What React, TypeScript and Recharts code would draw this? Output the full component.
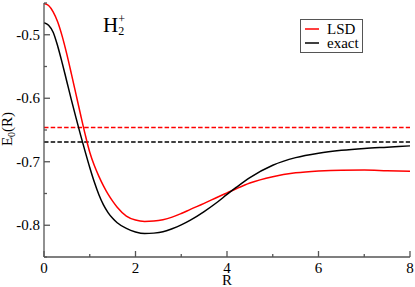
import React from 'react';
import { LineChart, Line, XAxis, YAxis, ReferenceLine, Legend } from 'recharts';

// distance R (bohr)
const rValues = [
  0, 0.1, 0.2, 0.3, 0.4, 0.5, 0.6, 0.7, 0.8, 0.9, 1.0, 1.1, 1.2, 1.3, 1.4, 1.5, 1.6, 1.8, 2.0, 2.2,
  2.4, 2.6, 2.8, 3.0, 3.2, 3.5, 3.8, 4.0, 4.2, 4.5, 5.0, 5.5, 6.0, 6.5, 7.0, 7.5, 8.0,
];
// ground state energy, LSD
const lsdValues = [
  -0.451, -0.454, -0.464, -0.48, -0.503, -0.531, -0.562, -0.594, -0.626, -0.657, -0.685, -0.706,
  -0.723, -0.738, -0.751, -0.762, -0.7715, -0.7855, -0.7918, -0.7939, -0.7933, -0.7912, -0.7872,
  -0.7815, -0.775, -0.7655, -0.7555, -0.749, -0.7425, -0.7335, -0.7235, -0.7175, -0.7145, -0.7132,
  -0.7131, -0.714, -0.7148,
];
// ground state energy, exact
const exactValues = [
  -0.481, -0.485, -0.496, -0.518, -0.545, -0.574, -0.603, -0.631, -0.658, -0.684, -0.709, -0.732,
  -0.752, -0.768, -0.78, -0.789, -0.796, -0.805, -0.8105, -0.8131, -0.8124, -0.8103, -0.8055,
  -0.7995, -0.792, -0.7785, -0.763, -0.7515, -0.7405, -0.725, -0.7055, -0.6935, -0.6865, -0.682,
  -0.679, -0.677, -0.675,
];
// dissociation limits (dashed)
const lsdLimit = -0.646;
const exactLimit = -0.669;

const xTicks = [0, 1, 2, 3, 4, 5, 6, 7, 8];
const yTicks = [-0.85, -0.8, -0.75, -0.7, -0.65, -0.6, -0.55, -0.5, -0.45];

const data = rValues.map((R, i) => ({ R, lsd: lsdValues[i], exact: exactValues[i] }));

const FONT = '"Liberation Serif", "DejaVu Serif", serif';
const AXIS = '#555';
const MAJOR = 6;
const MINOR = 3;
const MIRROR = 5;

const isMajorY = (v: number) => Math.abs(v * 10 - Math.round(v * 10)) < 1e-6;

const BottomTick = (props: any) => {
  const { x, y, payload } = props;
  const major = payload.value % 2 === 0;
  return (
    <g>
      <line x1={x} x2={x} y1={y} y2={y - (major ? MAJOR : MINOR)} stroke={AXIS} strokeWidth={1.3} />
      {major && (
        <text x={x} y={y + 16} textAnchor="middle" fontSize={15} fontFamily={FONT} fill="#000">
          {payload.value}
        </text>
      )}
    </g>
  );
};

const LeftTick = (props: any) => {
  const { x, y, payload } = props;
  const major = isMajorY(payload.value);
  return (
    <g>
      <line x1={x} x2={x + (major ? MAJOR : MINOR)} y1={y} y2={y} stroke={AXIS} strokeWidth={1.3} />
      {major && (
        <text x={x - 4} y={y + 5} textAnchor="end" fontSize={15} fontFamily={FONT} fill="#000">
          {payload.value.toFixed(1)}
        </text>
      )}
    </g>
  );
};

const TopTick = (props: any) => {
  const { x, y } = props;
  return <line x1={x} x2={x} y1={y} y2={y + MIRROR} stroke={AXIS} strokeWidth={1.3} />;
};

const RightTick = (props: any) => {
  const { x, y } = props;
  return <line x1={x} x2={x - MIRROR} y1={y} y2={y} stroke={AXIS} strokeWidth={1.3} />;
};

const YLabel = (props: any) => {
  const vb = props.viewBox || { x: 0, y: 3, width: 44, height: 254 };
  const cx = vb.x + 12;
  const cy = vb.y + vb.height / 2 - 1;
  return (
    <text
      x={cx}
      y={cy}
      transform={`rotate(-90 ${cx} ${cy})`}
      textAnchor="middle"
      fontSize={15}
      fontFamily={FONT}
      fill="#000"
    >
      E
      <tspan fontSize={10} dy={3}>
        0
      </tspan>
      <tspan dy={-3}>(R)</tspan>
    </text>
  );
};

const legendItems = [
  { name: 'LSD', color: '#ff0000' },
  { name: 'exact', color: '#000000' },
];

const LegendBox = () => (
  <div
    style={{
      border: `1px solid ${AXIS}`,
      background: '#fff',
      padding: '2px 3px 2px 4px',
      fontFamily: FONT,
      fontSize: 15,
      lineHeight: '14px',
    }}
  >
    {legendItems.map((s) => (
      <div key={s.name} style={{ display: 'flex', alignItems: 'center', height: 14 }}>
        <svg width={14} height={4} style={{ marginRight: 8, flex: 'none' }}>
          <line x1={0} x2={14} y1={2} y2={2} stroke={s.color} strokeWidth={1.5} />
        </svg>
        <span>{s.name}</span>
      </div>
    ))}
  </div>
);

export default function App() {
  return (
    <div style={{ position: 'absolute', left: 0, top: 0, width: 415, height: 287, background: '#fff' }}>
      <LineChart width={415} height={287} data={data} margin={{ top: 3, right: 5, left: 0, bottom: 0 }}>
        <XAxis
          dataKey="R"
          type="number"
          domain={[0, 8]}
          ticks={xTicks}
          interval={0}
          height={30}
          tickSize={0}
          tickMargin={0}
          tickLine={false}
          axisLine={{ stroke: AXIS, strokeWidth: 1.3 }}
          tick={<BottomTick />}
          label={{ value: 'R', position: 'insideBottom', offset: 2, fontSize: 15, fontFamily: FONT, fill: '#000' }}
        />
        <XAxis
          xAxisId="top"
          dataKey="R"
          type="number"
          orientation="top"
          domain={[0, 8]}
          ticks={xTicks}
          interval={0}
          height={0}
          tickSize={0}
          tickMargin={0}
          tickLine={false}
          axisLine={{ stroke: AXIS, strokeWidth: 1.3 }}
          tick={<TopTick />}
        />
        <YAxis
          type="number"
          domain={[-0.85, -0.45]}
          ticks={yTicks}
          interval={0}
          allowDataOverflow
          width={44}
          tickSize={0}
          tickMargin={0}
          tickLine={false}
          axisLine={{ stroke: AXIS, strokeWidth: 1.3 }}
          tick={<LeftTick />}
          label={(p: any) => <YLabel {...p} />}
        />
        <YAxis
          yAxisId="right"
          type="number"
          orientation="right"
          domain={[-0.85, -0.45]}
          ticks={yTicks}
          interval={0}
          width={0}
          tickSize={0}
          tickMargin={0}
          tickLine={false}
          axisLine={{ stroke: AXIS, strokeWidth: 1.3 }}
          tick={<RightTick />}
        />
        <ReferenceLine y={lsdLimit} stroke="#ff0000" strokeWidth={1.6} strokeDasharray="4.5 2.2" />
        <ReferenceLine y={exactLimit} stroke="#000000" strokeWidth={1.6} strokeDasharray="4.5 2.2" />
        <Line
          type="monotone"
          dataKey="lsd"
          name="LSD"
          stroke="#ff0000"
          strokeWidth={1.5}
          dot={false}
          isAnimationActive={false}
        />
        <Line
          type="monotone"
          dataKey="exact"
          name="exact"
          stroke="#000000"
          strokeWidth={1.5}
          dot={false}
          isAnimationActive={false}
        />
        <Legend
          layout="horizontal"
          verticalAlign="middle"
          align="center"
          content={<LegendBox />}
          wrapperStyle={{ left: 300, top: 19, width: 'auto' }}
        />
      </LineChart>
      <svg
        width={415}
        height={287}
        style={{ position: 'absolute', left: 0, top: 0, pointerEvents: 'none' }}
      >
        <text x={103} y={32} fontSize={21} fontFamily={FONT} fill="#000">
          H
          <tspan fontSize={12} dy={3}>
            2
          </tspan>
          <tspan fontSize={12} dx={-6} dy={-12}>
            +
          </tspan>
        </text>
      </svg>
    </div>
  );
}
